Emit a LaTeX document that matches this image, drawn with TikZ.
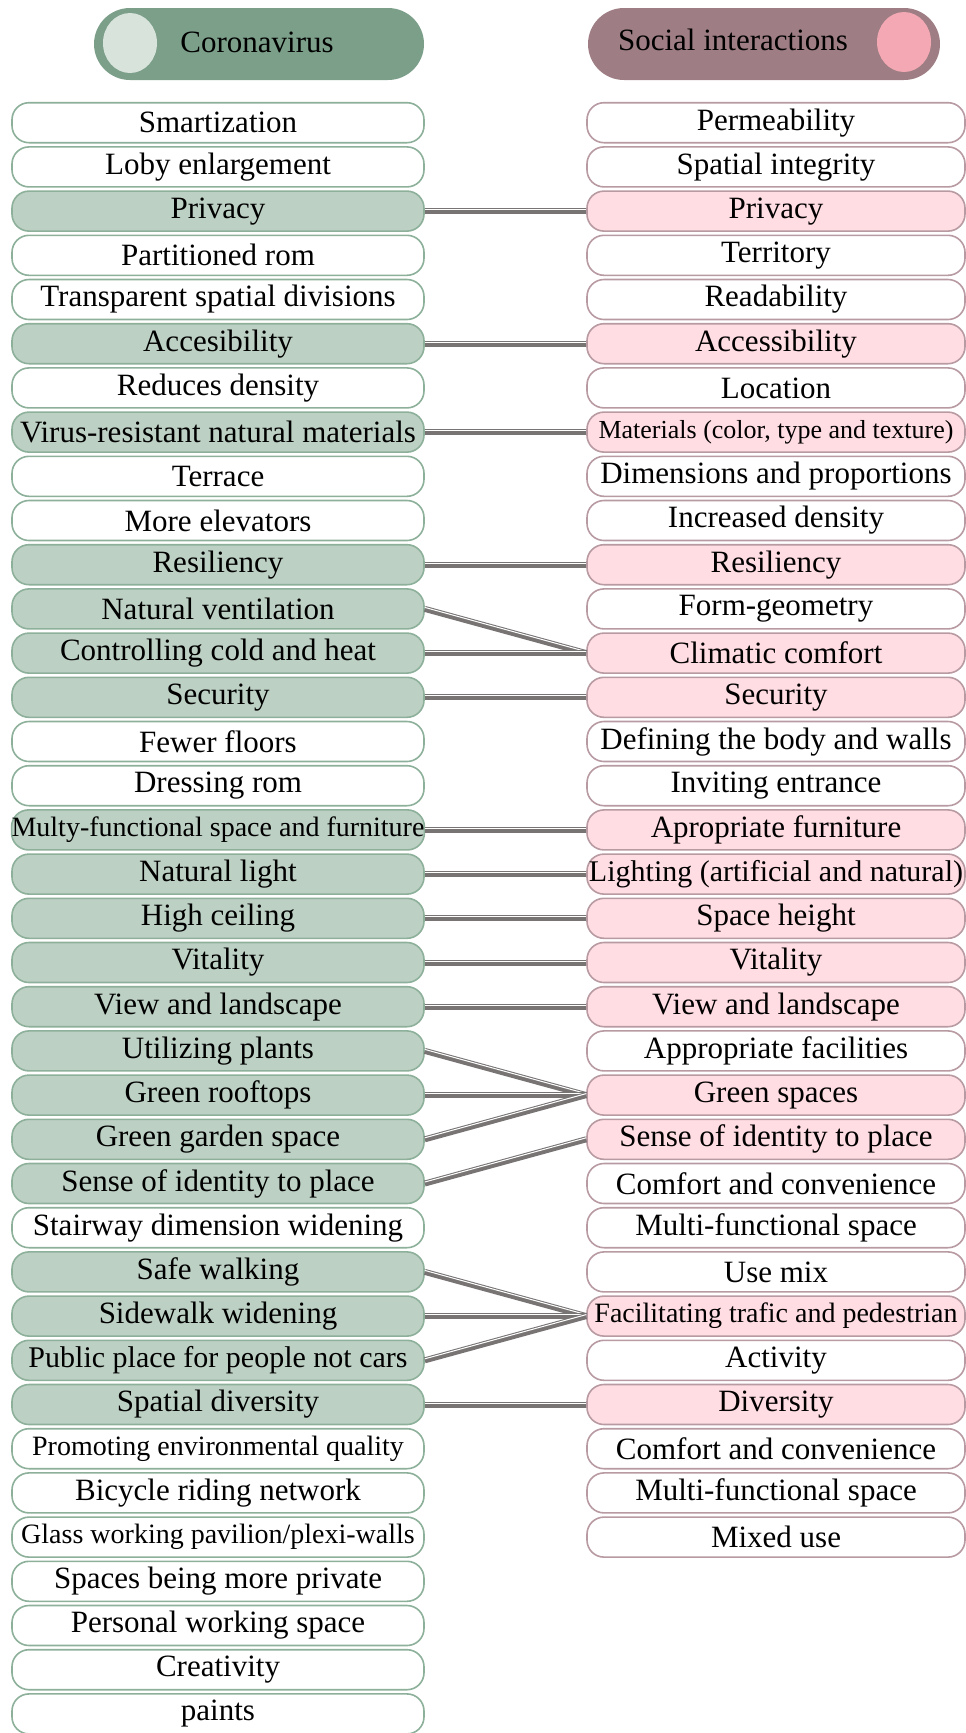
\documentclass[tikz,border=0pt]{standalone}
\usepackage{fontspec}
\setmainfont{Liberation Serif}
\usetikzlibrary{shapes.geometric}
\definecolor{cvhead}{HTML}{7C9F89}
\definecolor{cvdot}{HTML}{D8E3DC}
\definecolor{cvline}{HTML}{8DB09A}
\definecolor{cvfill}{HTML}{BDD0C4}
\definecolor{sihead}{HTML}{9E7E84}
\definecolor{sidot}{HTML}{F4A8B3}
\definecolor{siline}{HTML}{B89AA2}
\definecolor{sifill}{HTML}{FFDDE3}
\definecolor{linkc}{HTML}{787474}
\newcommand{\fitsize}[1]{\fontsize{#1}{#1}\selectfont}

\begin{document}
\begin{tikzpicture}[x=1pt, y=-1pt, font=\fitsize{31},
    head/.style={rounded corners=36pt, minimum width=330pt, minimum height=72pt,
      inner sep=0pt},
    dot/.style={ellipse, minimum width=54pt, minimum height=60pt, inner sep=0pt},
    cbox/.style={draw=cvline, line width=1.6pt, fill=white, rounded corners=17pt,
      minimum width=412pt, minimum height=40pt, inner sep=0pt},
    cfill/.style={cbox, fill=cvfill},
    sbox/.style={draw=siline, line width=1.6pt, fill=white, rounded corners=17pt,
      minimum width=378pt, minimum height=40pt, inner sep=0pt},
    sfill/.style={sbox, fill=sifill},
    link/.style={draw=linkc, line width=6pt,
      postaction={draw=white, line width=1pt, transform canvas={yshift=1.5pt}}}]
    \useasboundingbox (0,0) rectangle (966,1733);
    % headers
    \node[head, fill=cvhead] (hc) at (259,44) {};
    \node[dot, fill=cvdot] (hcd) at (130,43) {};
    \node (hct) at (257,42) {Coronavirus};
    \node[head, fill=sihead, minimum width=352pt] (hs) at (764,44) {};
    \node[dot, fill=sidot] (hsd) at (904,42) {};
    \node (hst) at (733,40) {Social interactions};
    % coronavirus column
    \foreach \s/\t [count=\i from 0] in {
        cbox/Smartization, cbox/Loby enlargement, cfill/Privacy,
        cbox/Partitioned rom, cbox/Transparent spatial divisions,
        cfill/Accesibility, cbox/Reduces density,
        cfill/Virus-resistant natural materials, cbox/Terrace,
        cbox/More elevators, cfill/Resiliency, cfill/Natural ventilation,
        cfill/Controlling cold and heat, cfill/Security, cbox/Fewer floors,
        cbox/Dressing rom,
        cfill/{\fitsize{28}Multy-functional space and furniture},
        cfill/Natural light, cfill/High ceiling, cfill/Vitality,
        cfill/View and landscape, cfill/Utilizing plants,
        cfill/Green rooftops, cfill/Green garden space,
        cfill/Sense of identity to place, cbox/Stairway dimension widening,
        cfill/Safe walking, cfill/Sidewalk widening,
        cfill/{\fitsize{30}Public place for people not cars},
        cfill/Spatial diversity,
        cbox/{\fitsize{28}Promoting environmental quality},
        cbox/Bicycle riding network,
        cbox/{\fitsize{28}Glass working pavilion/plexi-walls},
        cbox/Spaces being more private, cbox/Personal working space,
        cbox/Creativity, cbox/paints}{
      \node[\s] (c\i) at (218,{122.7+44.2*\i}) {\t};
    }
    % social interactions column
    \foreach \s/\t [count=\i from 0] in {
        sbox/Permeability, sbox/Spatial integrity, sfill/Privacy,
        sbox/Territory, sbox/Readability, sfill/Accessibility,
        sbox/Location,
        sfill/{\fitsize{26}Materials (color, type and texture)},
        sbox/Dimensions and proportions, sbox/Increased density,
        sfill/Resiliency, sbox/Form-geometry, sfill/Climatic comfort,
        sfill/Security, sbox/Defining the body and walls,
        sbox/Inviting entrance, sfill/Apropriate furniture,
        sfill/{\fitsize{30}Lighting (artificial and natural)},
        sfill/Space height, sfill/Vitality, sfill/View and landscape,
        sbox/Appropriate facilities, sfill/Green spaces,
        sfill/Sense of identity to place, sbox/Comfort and convenience,
        sbox/Multi-functional space, sbox/Use mix,
        sfill/{\fitsize{28}Facilitating trafic and pedestrian},
        sbox/Activity, sfill/Diversity, sbox/Comfort and convenience,
        sbox/Multi-functional space, sbox/Mixed use}{
      \node[\s] (s\i) at (776,{122.7+44.2*\i}) {\t};
    }
    % links
    \foreach \a/\b in {2/2, 5/5, 7/7, 10/10, 11/12, 12/12, 13/13, 16/16,
        17/17, 18/18, 19/19, 20/20, 21/22, 22/22, 23/22, 24/23,
        26/27, 27/27, 28/27, 29/29}{
      \draw[link] (c\a.east) -- (s\b.west);
    }
  \end{tikzpicture}
\end{document}
